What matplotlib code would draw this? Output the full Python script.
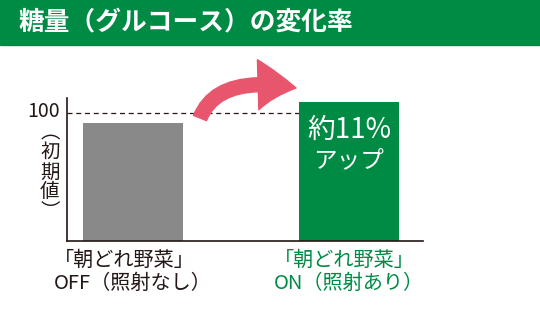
import matplotlib.pyplot as plt
from matplotlib.patches import Rectangle

plt.rcParams['font.family'] = ['Noto Sans CJK JP', 'DejaVu Sans']

# data
categories = ['「朝どれ野菜」\nOFF（照射なし）', '「朝どれ野菜」\nON（照射あり）']
values = [92.2, 108.6]
bar_colors = ['#898989', '#008b45']
label_colors = ['#231815', '#008b45']
ref_value = 100
title = '糖量（グルコース）の変化率'
note_top = '約11%'
note_bottom = 'アップ'

GREEN = '#008b45'
DARK = '#231815'
PINK = '#e8566e'

fig = plt.figure(figsize=(5.4, 3.1), dpi=100)

# header band
fig.patches.append(Rectangle((0, 0.855), 1, 0.145, transform=fig.transFigure,
                             color=GREEN, zorder=0))
fig.text(18 / 540, 0.929, title, color='white', fontsize=18.5, fontweight='bold',
         va='center', ha='left')

ax = fig.add_axes([67 / 540, 69 / 310, 356 / 540, 143 / 310])
x = [0, 1]
w = 100 / 216
ax.bar(x, values, width=w, color=bar_colors, zorder=2)
ax.set_xlim(-66 / 216, 290 / 216)
ax.set_ylim(0, 111.7)

# reference line at 100
ax.plot([-66 / 216, 1 - w / 2], [ref_value, ref_value], color=DARK, lw=0.9,
        dashes=(4, 3), zorder=1)

for s in ['top', 'right']:
    ax.spines[s].set_visible(False)
for s in ['left', 'bottom']:
    ax.spines[s].set_color(DARK)
    ax.spines[s].set_linewidth(1.2)
ax.set_xticks([])
ax.set_yticks([])

# y label
ax.text(-0.02, ref_value + 1.5, str(ref_value), transform=ax.get_yaxis_transform(),
        ha='right', va='center', fontsize=14, color=DARK)
ax.text(-0.048, 0.83, '︵\n初\n期\n値\n︶', transform=ax.transAxes, ha='center',
        va='top', fontsize=14, color=DARK, linespacing=0.92)

# note inside green bar
ax.text(1, 87, note_top, ha='center', va='center', color='white', fontsize=20,
        zorder=3)
ax.text(1, 63, note_bottom, ha='center', va='center', color='white', fontsize=17,
        zorder=3)

# category labels
for xi, lab, c in zip(x, categories, label_colors):
    ax.text(xi, -7, lab, ha='center', va='top', color=c, fontsize=14.5,
            linespacing=1.15, multialignment='left')

# curved arrow
ax.annotate('', xy=(296, 222), xytext=(200, 192), xycoords='figure pixels',
            textcoords='figure pixels',
            arrowprops=dict(arrowstyle='simple,head_length=1.9,head_width=2.5,tail_width=0.7',
                            connectionstyle='angle3,angleA=68,angleB=-10', color=PINK,
                            mutation_scale=14.4, shrinkA=0, shrinkB=0))

fig.savefig('out.png', dpi=100)
